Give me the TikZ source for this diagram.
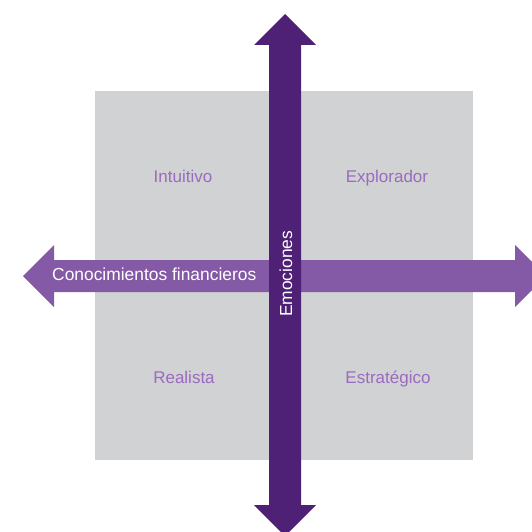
\documentclass[tikz,border=0pt]{standalone}
\usepackage{fontspec}
\setmainfont{Liberation Sans}
\usepackage{tikz}
\usetikzlibrary{positioning}
\definecolor{boxgray}{HTML}{D1D2D4}
\definecolor{darkviolet}{HTML}{4E2177}
\definecolor{lightviolet}{HTML}{8459A5}
\definecolor{labelviolet}{HTML}{9A6BBE}

\begin{document}
\begin{tikzpicture}[x=1pt,y=-1pt,
  quad label/.style={text=labelviolet,anchor=base,inner sep=0pt,font=\fontsize{17}{20}\selectfont},
  axis label/.style={text=white,anchor=base west,inner sep=0pt,font=\fontsize{17.4}{20}\selectfont}]

  \clip (0,0) rectangle (532,532);
  \useasboundingbox (0,0) rectangle (532,532);

  % square
  \fill[boxgray] (95,91) rectangle (473,460);

  % horizontal axis
  \fill[lightviolet] (23,276) -- (54,245) -- (54,260) -- (515,260) -- (515,245)
    -- (546,276) -- (515,307) -- (515,292) -- (54,292) -- (54,307) -- cycle;

  % vertical axis
  \fill[darkviolet] (285,14) -- (316,45) -- (301,45) -- (301,505) -- (316,505)
    -- (285,536) -- (254,505) -- (269,505) -- (269,45) -- (254,45) -- cycle;

  \node[quad label] (intuitivo) at (183,182) {Intuitivo};
  \node[quad label] (explorador) at (387,182) {Explorador};
  \node[quad label] (realista) at (184,383) {Realista};
  \node[quad label] (estrategico) at (388,383) {Estratégico};

  \node[axis label] (conocimientos) at (52,280) {Conocimientos financieros};
  \node[axis label,rotate=90] (emociones) at (292,317) {Emociones};
\end{tikzpicture}
\end{document}
